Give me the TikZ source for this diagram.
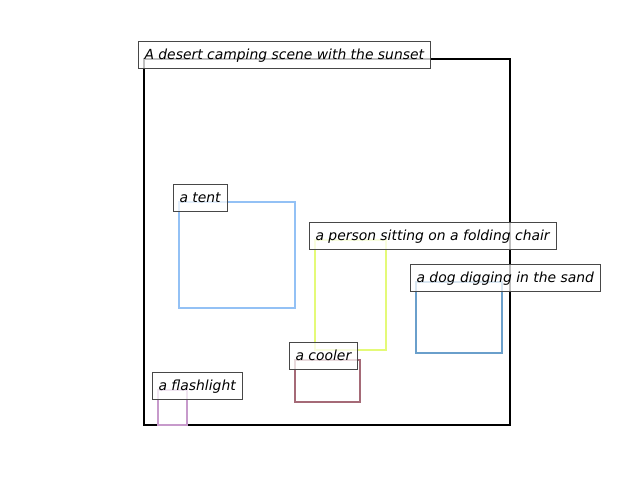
\documentclass[tikz,border=0pt]{standalone}
\usepackage{fontspec}
\setmainfont{DejaVu Sans}
\definecolor{tentblue}{HTML}{93C1F5}
\definecolor{chairgreen}{HTML}{E4FA78}
\definecolor{dogblue}{HTML}{6A9FCB}
\definecolor{coolerred}{HTML}{A56A77}
\definecolor{lightpurple}{HTML}{C79ACB}
\begin{document}
\begin{tikzpicture}[
    x=1pt, y=-1pt,
    region/.style={line width=2.8pt},
    caption/.style={anchor=base west, xshift=-6.5pt, draw=black!72, line width=1pt, fill=white,
        fill opacity=0.75, text opacity=1, inner xsep=6.5pt, inner ysep=4pt,
        text height=14pt, text depth=5pt, font=\fontsize{13.9}{16}\selectfont\itshape}
]
\useasboundingbox (0,0) rectangle (640,480);

% Define regions
\coordinate (scene) at (144,59);
\coordinate (tent) at (179,202);
\coordinate (person) at (315,240);
\coordinate (dog) at (416,282);
\coordinate (cooler) at (295,360);
\coordinate (flash) at (158,390);

\draw [region, black] (scene) rectangle (510,425);
\draw [region, tentblue] (tent) rectangle (295,308);
\draw [region, chairgreen] (person) rectangle (386,350);
\draw [region, dogblue] (dog) rectangle (502,353);
\draw [region, coolerred] (cooler) rectangle (360,402);
\draw [region, lightpurple] (flash) rectangle (187,425);

% Labels
\node (l1) [caption] at (scene) {A desert camping scene with the sunset};
\node (l2) [caption] at (tent) {a tent};
\node (l3) [caption] at (person) {a person sitting on a folding chair};
\node (l4) [caption] at (dog) {a dog digging in the sand};
\node (l5) [caption] at (cooler) {a cooler};
\node (l6) [caption] at (flash) {a flashlight};
\end{tikzpicture}
\end{document}
